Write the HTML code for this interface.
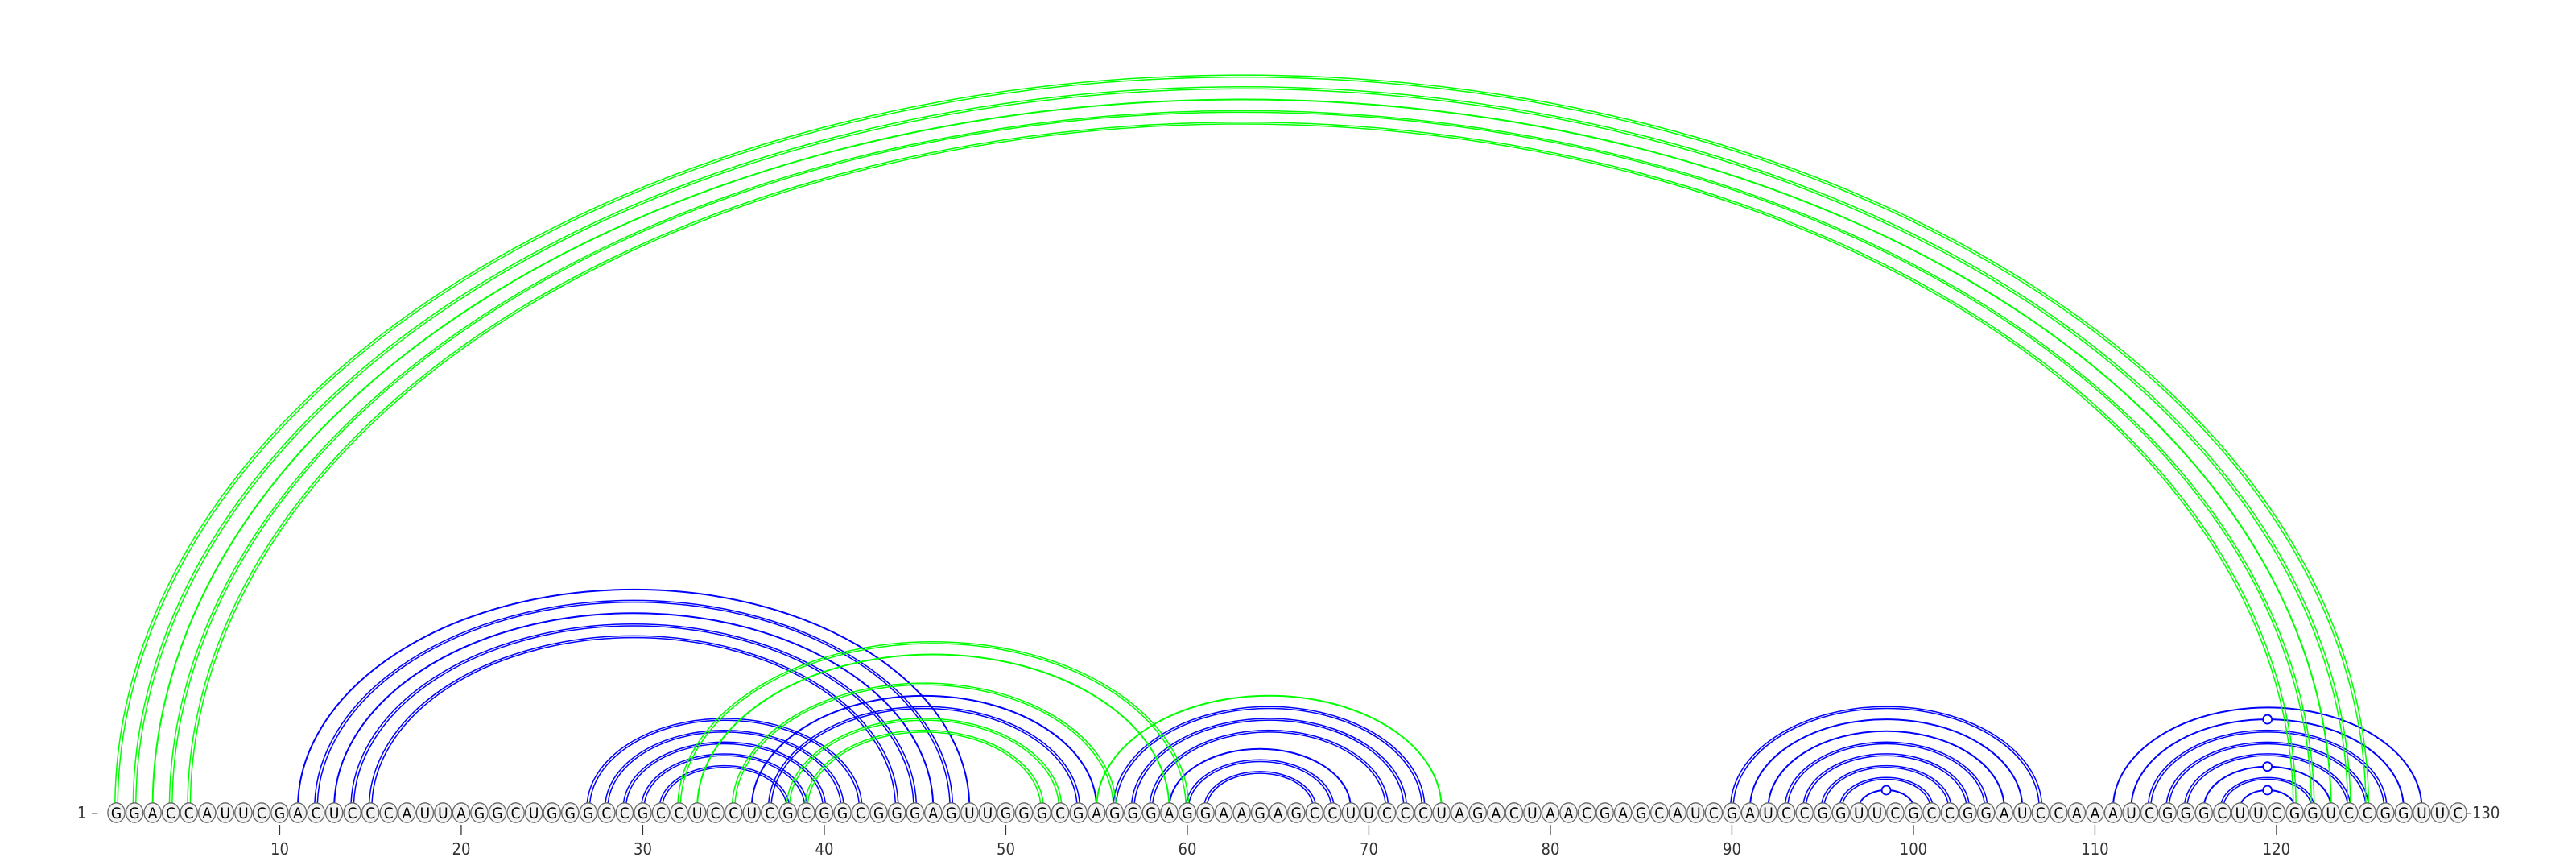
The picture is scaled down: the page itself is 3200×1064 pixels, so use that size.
<!DOCTYPE html>
<html>
<head>
<meta charset="utf-8">
<style>
  html,body{margin:0;padding:0;background:#fff;}
  svg{display:block;}
  .nt{font-family:"DejaVu Sans Condensed","Liberation Sans Narrow","Liberation Sans",sans-serif;font-size:19px;fill:#000;}
  .lbl{font-family:"DejaVu Sans Condensed","DejaVu Sans","Liberation Sans",sans-serif;font-size:20px;fill:#333;}
</style>
</head>
<body>
<svg id="chart" width="3200" height="1064" viewBox="0 0 3200 1064" xmlns="http://www.w3.org/2000/svg">
  <defs>
    <clipPath id="clipTop"><rect x="0" y="0" width="3200" height="997"/></clipPath>
  </defs>
  <g id="blueArcs" clip-path="url(#clipTop)"></g>
  <g id="greenArcs" clip-path="url(#clipTop)"></g>
  <g id="markers"></g>
  <g id="seq"></g>
  <g id="ticks"></g>
  <text class="lbl" x="96" y="1016">1 –</text>
  <text class="lbl" x="3062" y="1016">–130</text>
</svg>
<script>
const sequence = "GGACCAUUCGACUCCCAUUAGGCUGGGCCGCCUCCUCGCGGCGGGAGUUGGGCGAGGGAGGAAGAGCCUUCCCUAGACUAACGAGCAUCGAUCCGGUUCGCCGGAUCCAAAUCGGGCUUCGGUCCGGUUC";
const tickPositions = [10,20,30,40,50,60,70,80,90,100,110,120];
const tickLabels = ["10","20","30","40","50","60","70","80","90","100","110","120"];

const blueI = [11,12,13,14,15, 27,28,29,30,31, 36,37, 56,57,58,59,60,61, 90,91,92,93,94,95,96,97, 111,112,113,114,115,116,117,118];
const blueJ = [48,47,46,45,44, 42,41,40,39,38, 55,54, 73,72,71,69,68,67, 107,106,105,104,103,102,101,100, 128,127,126,125,124,123,122,121];
const blueDouble = [0,1,0,1,1, 1,1,1,1,1, 0,1, 1,1,1,0,1,1, 1,0,0,1,1,1,1,0, 0,0,1,1,1,0,1,0];
const blueMarker = [0,0,0,0,0, 0,0,0,0,0, 0,0, 0,0,0,0,0,0, 0,0,0,0,0,0,0,1, 0,1,0,0,0,1,0,1];

const greenI = [1,2,3,4,5, 32,33,35,38,39, 55];
const greenJ = [125,124,123,122,121, 60,59,56,53,52, 74];
const greenDouble = [1,1,0,1,1, 1,0,1,1,1, 0];

const NS = "http://www.w3.org/2000/svg";
const X0 = 144.5, DX = 22.55, BASE = 1009;
function xPos(p){ return X0 + (p-1)*DX; }
function arcHeight(rx){ return 0.65*rx - 8; }

function arcPath(i, j, off){
  const x1 = xPos(i), x2 = xPos(j);
  const cx = (x1+x2)/2;
  const rx = (x2-x1)/2 + off;
  const h = arcHeight((x2-x1)/2) + off*0.65;
  const cy = 1003;
  const ry = h + (cy - 995);
  return "M" + (cx-rx) + " " + cy + " A " + rx + " " + ry + " 0 0 1 " + (cx+rx) + " " + cy;
}

function drawArcs(groupId, I, J, D, color){
  const g = document.getElementById(groupId);
  for (let k=0;k<I.length;k++){
    const offs = D[k] ? [-1.7, 1.7] : [0];
    const w = D[k] ? 1.5 : 2.0;
    for (const o of offs){
      const p = document.createElementNS(NS,"path");
      p.setAttribute("d", arcPath(I[k], J[k], o));
      p.setAttribute("fill","none");
      p.setAttribute("stroke",color);
      p.setAttribute("stroke-width",w);
      
      
      g.appendChild(p);
    }
  }
}
drawArcs("blueArcs", blueI, blueJ, blueDouble, "#0000ff");
drawArcs("greenArcs", greenI, greenJ, greenDouble, "#00ff00");

const mg = document.getElementById("markers");
for (let k=0;k<blueI.length;k++){
  if (!blueMarker[k]) continue;
  const cx = (xPos(blueI[k]) + xPos(blueJ[k]))/2;
  const cy = 995 - arcHeight((xPos(blueJ[k]) - xPos(blueI[k]))/2);
  const c = document.createElementNS(NS,"circle");
  c.setAttribute("cx",cx); c.setAttribute("cy",cy); c.setAttribute("r",5.5);
  c.setAttribute("fill","#fff"); c.setAttribute("stroke","#0000ff"); c.setAttribute("stroke-width",1.8);
  
  
  mg.appendChild(c);
}

const sg = document.getElementById("seq");
for (let p=1;p<=sequence.length;p++){
  const x = xPos(p);
  const c = document.createElementNS(NS,"ellipse");
  c.setAttribute("cx",x); c.setAttribute("cy",BASE); c.setAttribute("rx",10.6); c.setAttribute("ry",12.2);
  c.setAttribute("fill","#f2f2f2"); c.setAttribute("stroke","#666"); c.setAttribute("stroke-width",1.3);
  
  
  sg.appendChild(c);
  const t = document.createElementNS(NS,"text");
  t.setAttribute("x",x); t.setAttribute("y",BASE+7); t.setAttribute("text-anchor","middle");
  t.setAttribute("class","nt");
  t.textContent = sequence[p-1];
  
  
  sg.appendChild(t);
}

const tg = document.getElementById("ticks");
for (let k=0;k<tickPositions.length;k++){
  const x = xPos(tickPositions[k]);
  const l = document.createElementNS(NS,"line");
  l.setAttribute("x1",x); l.setAttribute("x2",x); l.setAttribute("y1",1024); l.setAttribute("y2",1037);
  l.setAttribute("stroke","#333"); l.setAttribute("stroke-width",1.3);
  
  
  tg.appendChild(l);
  const t = document.createElementNS(NS,"text");
  t.setAttribute("x",x); t.setAttribute("y",1061); t.setAttribute("text-anchor","middle");
  t.setAttribute("class","lbl");
  t.textContent = tickLabels[k];
  
  
  tg.appendChild(t);
}
</script>
</body>
</html>
